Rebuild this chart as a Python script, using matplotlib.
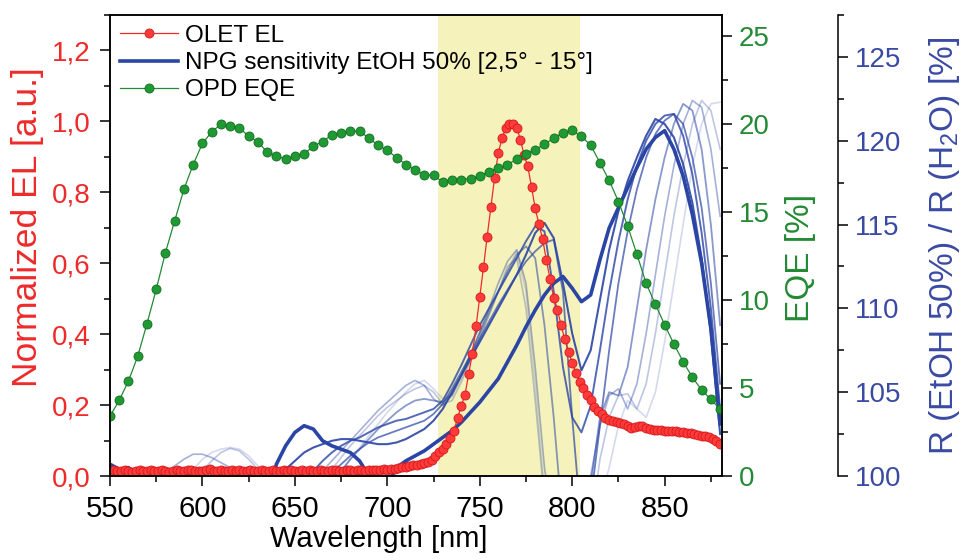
import numpy as np
import matplotlib
matplotlib.use('Agg')
import matplotlib.pyplot as plt
from matplotlib.ticker import MultipleLocator, FuncFormatter

plt.rcParams['font.family'] = ['Liberation Sans', 'DejaVu Sans']
plt.rcParams['mathtext.fontset'] = 'custom'
plt.rcParams['mathtext.rm'] = 'Liberation Sans'
plt.rcParams['mathtext.it'] = 'Liberation Sans:italic'

# --- données ---
# OPD EQE (%), pas de 5 nm
wl_eqe = np.arange(550, 881, 5)
eqe = [3.4, 4.3, 5.4, 6.8, 8.65, 10.6, 12.7, 14.5, 16.3, 17.7,
       18.9, 19.55, 20.0, 19.9, 19.8, 19.3, 19.0, 18.4, 18.2, 18.0,
       18.2, 18.3, 18.75, 19.0, 19.4, 19.5, 19.6, 19.6, 19.2, 18.8,
       18.5, 18.1, 17.7, 17.4, 17.1, 17.1, 16.7, 16.8, 16.85, 16.9,
       17.05, 17.3, 17.5, 17.7, 18.0, 18.3, 18.55, 18.85, 19.2, 19.5,
       19.65, 19.3, 18.8, 17.8, 16.8, 15.6, 14.2, 12.6, 10.95, 9.75,
       8.6, 7.5, 6.5, 5.6, 4.9, 4.35, 3.8]

# OLET EL normalisée, pas de 2 nm
wl_el = np.arange(550, 881, 2)
el = [0.014, 0.016, 0.013, 0.015, 0.017, 0.014, 0.012, 0.015, 0.016, 0.013,
      0.015, 0.018, 0.014, 0.013, 0.016, 0.015, 0.012, 0.014, 0.017, 0.015,
      0.013, 0.016, 0.018, 0.014, 0.015, 0.013, 0.016, 0.019, 0.015, 0.014,
      0.017, 0.015, 0.013, 0.016, 0.014, 0.018, 0.015, 0.013, 0.016, 0.015,
      0.014, 0.017, 0.015, 0.013, 0.016, 0.014, 0.015, 0.018, 0.014, 0.016,
      0.013, 0.015, 0.017, 0.014, 0.016, 0.015, 0.013, 0.017, 0.015, 0.014,
      0.016, 0.018, 0.015, 0.014, 0.017, 0.016, 0.015, 0.018, 0.016, 0.015,
      0.017, 0.016, 0.018, 0.017, 0.019, 0.018,
      0.020, 0.021, 0.023, 0.024, 0.026, 0.028, 0.030, 0.031, 0.033, 0.036,
      0.040, 0.046, 0.057, 0.068, 0.077, 0.090, 0.108, 0.128, 0.163, 0.198,
      0.228, 0.288, 0.345, 0.422, 0.505, 0.588, 0.675, 0.758, 0.840, 0.910,
      0.952, 0.980, 0.992, 0.993, 0.982, 0.948, 0.905, 0.873, 0.815, 0.755,
      0.710, 0.668, 0.610, 0.556, 0.502, 0.469, 0.425, 0.385, 0.350, 0.320,
      0.290, 0.266, 0.248, 0.228, 0.215, 0.195, 0.184, 0.176, 0.163, 0.158,
      0.156, 0.152, 0.150, 0.147, 0.140, 0.136, 0.138, 0.142, 0.140, 0.136,
      0.132, 0.130, 0.131, 0.129, 0.128, 0.127, 0.128, 0.126, 0.125, 0.124,
      0.122, 0.120, 0.119, 0.117, 0.114, 0.112, 0.110, 0.105, 0.098, 0.090]

# NPG sensitivity R(EtOH 50%)/R(H2O) (%), pas de 5 nm, 2,5° -> 15°
wl_npg = np.arange(550, 881, 5)
npg_1 = [100.7, 100.4, 100.5, 98, 97, 97, 97, 97, 97, 97,
         97, 97, 97, 97, 97, 97, 97, 98.5, 100.7, 101.8,
         102.6, 103.0, 102.8, 102.1, 101.8, 101.6, 101.4, 100.9, 100.0, 98.8,
         99.5, 100.5, 100.9, 101.2, 101.5, 101.9, 102.3, 102.7, 103.2, 103.8,
         104.4, 105.1, 105.8, 106.8, 107.8, 108.9, 109.9, 110.8, 111.5, 111.9,
         111.2, 110.4, 110.8, 112.9, 114.8, 116.0, 117.2, 118.4, 119.5, 120.2,
         120.6, 119.5, 117.9, 115.6, 112.7, 108.8, 103.1]
npg_2 = [97, 97, 97, 97, 97, 97, 97, 97, 97, 97,
         97, 97, 97, 97, 97, 97, 97, 97, 98.5, 100.4,
         100.9, 101.4, 101.7, 101.9, 102.1, 102.2, 102.2, 102.1, 102.0, 101.9,
         101.9, 102.0, 102.2, 102.5, 102.8, 103.3, 104.0, 105.0, 106.0, 107.0,
         108.0, 109.0, 110.0, 111.0, 112.0, 113.2, 114.5, 115.1, 114.2, 111.5,
         108.5, 106.3, 107.5, 110.5, 113.5, 115.8, 117.6, 119.0, 120.3, 121.3,
         121.0, 120.2, 118.6, 116.3, 113.0, 108.5, 102.5]
npg_3 = [97, 97, 97, 97, 97, 97, 97, 97, 97, 97,
         97, 97, 97, 97, 97, 97, 97, 97, 97, 97,
         97, 98.5, 100.3, 100.9, 101.4, 101.8, 102.1, 102.3, 102.6, 102.9,
         103.1, 103.3, 103.4, 103.6, 103.8, 104.0, 104.5, 105.5, 106.6, 107.8,
         109.0, 110.0, 111.0, 112.0, 113.0, 114.0, 114.9, 114.6, 111.0, 106.5,
         103.5, 102.6, 104.2, 107.5, 111.0, 114.0, 116.5, 118.5, 120.0, 121.0,
         121.5, 121.6, 120.3, 118.0, 114.5, 110.0, 104.0]
npg_4 = [97, 97, 97, 97, 97, 97, 99.2, 99.9, 100.3, 100.5,
         100.4, 100.1, 99.6, 97, 97, 97, 97, 97, 97, 97,
         97, 97, 97, 98.8, 100.2, 100.7, 101.2, 101.6, 102.0, 102.3,
         102.5, 102.7, 102.9, 103.1, 103.3, 103.7, 104.3, 105.2, 106.2, 107.2,
         108.2, 109.2, 110.2, 111.1, 112.0, 112.8, 113.4, 113.9, 114.1, 111.0,
         103.5, 97, 98.5, 103.0, 107.5, 111.5, 114.6, 117.1, 119.0, 120.4,
         121.2, 121.6, 121.0, 119.0, 116.0, 111.5, 105.5]
npg_5 = [97, 97, 97, 97, 97, 97, 97, 97, 97, 97,
         97, 97, 97, 97, 97, 97, 97, 97, 97, 97,
         97, 97, 97, 97, 99.5, 100.3, 101.0, 101.6, 102.2, 102.8,
         103.3, 103.8, 104.2, 104.5, 104.6, 104.5, 104.4, 104.9, 106.0, 107.2,
         108.5, 109.8, 111.0, 112.2, 113.2, 113.7, 113.0, 109.0, 103.5, 97,
         97, 97, 99.5, 103.5, 105.0, 104.8, 106.5, 110.0, 113.5, 116.5,
         119.0, 121.0, 122.2, 121.8, 119.5, 115.0, 109.0]
npg_6 = [97, 97, 97, 97, 97, 99.5, 100.1, 100.6, 101.0, 101.3,
         101.3, 101.1, 100.8, 100.5, 100.2, 99.8, 97, 97, 97, 97,
         97, 97, 99.5, 100.3, 100.9, 101.5, 102.1, 102.7, 103.3, 103.9,
         104.4, 104.9, 105.4, 105.7, 105.4, 104.6, 104.2, 104.8, 106.0, 107.3,
         108.6, 110.0, 111.5, 112.8, 113.5, 111.5, 106.5, 100.5, 97, 97,
         97, 97, 100.0, 103.0, 104.8, 105.2, 104.0, 105.5, 108.5, 112.0,
         115.5, 118.5, 121.0, 122.4, 122.0, 119.5, 115.5]
npg_7 = [97, 97, 97, 97, 97, 97, 97, 97, 97, 99.6,
         100.3, 100.9, 101.4, 101.65, 101.5, 101.0, 100.4, 99.8, 97, 97,
         97, 97, 97, 99.6, 100.4, 101.1, 101.8, 102.4, 103.0, 103.6,
         104.1, 104.5, 104.9, 105.2, 105.4, 105.0, 104.3, 104.5, 105.6, 106.9,
         108.2, 109.6, 111.0, 112.5, 113.0, 110.0, 104.5, 98.5, 97, 97,
         97, 97, 97, 101.0, 103.5, 104.8, 104.9, 104.0, 105.5, 108.5,
         112.0, 115.5, 118.5, 121.0, 122.4, 121.8, 119.5]
npg_8 = [97, 97, 97, 97, 97, 97, 97, 97, 99.6, 100.4,
         101.0, 101.4, 101.6, 101.7, 101.6, 101.2, 100.6, 100.0, 99.2, 97,
         97, 97, 97, 97, 99.2, 100.2, 101.0, 101.7, 102.4, 103.1,
         103.8, 104.4, 105.0, 105.5, 105.7, 105.2, 104.6, 104.8, 105.8, 107.0,
         108.3, 109.6, 111.0, 112.3, 113.4, 111.0, 105.5, 99.0, 97, 97,
         97, 97, 97, 98.5, 100.5, 103.0, 104.5, 104.0, 103.5, 105.0,
         108.0, 111.5, 115.0, 118.5, 121.0, 122.2, 122.3]
npg_curves = [npg_8, npg_7, npg_6, npg_5, npg_4, npg_3, npg_2, npg_1]
npg_alpha = [0.2, 0.3, 0.42, 0.55, 0.7, 0.8, 0.9, 1.0]
npg_lw = [1.2, 1.2, 1.2, 1.3, 1.3, 1.4, 1.5, 2.6]

band = (727.5, 804.3)

red = '#ee2a2a'
green = '#238a35'
blue = '#2b45a5'

fig = plt.figure(figsize=(9.63, 5.6), dpi=100)
ax = fig.add_axes([0.1142, 0.15, 0.6355, 0.8232])
ax_eqe = ax.twinx()
ax_r = ax.twinx()

ax_r.set_zorder(0)
ax.set_zorder(1)
ax_eqe.set_zorder(2)
ax.patch.set_visible(False)
ax_eqe.patch.set_visible(False)

# bande jaune + courbes NPG (axe le plus à droite)
ax_r.axvspan(band[0], band[1], color='#f5f3bb', zorder=0, lw=0)
for vals, a, lw in zip(npg_curves, npg_alpha, npg_lw):
    ax_r.plot(wl_npg, vals, color=blue, alpha=a, lw=lw)
ax_r.set_ylim(100, 127.5)
ax_r.spines['right'].set_position(('axes', 1.19))
for s in ['left', 'top', 'bottom']:
    ax_r.spines[s].set_visible(False)
ax_r.spines['right'].set_linewidth(1.1)
ax_r.yaxis.set_major_locator(MultipleLocator(5))
ax_r.yaxis.set_minor_locator(MultipleLocator(2.5))
ax_r.tick_params(axis='y', which='major', direction='out', length=7, width=1.1,
                 labelsize=20, labelcolor='#3a4aa3', pad=5)
ax_r.tick_params(axis='y', which='minor', direction='out', length=4, width=1.1)
ax_r.set_ylabel('R (EtOH 50%) / R (H$_2$O) [%]', color='#3a4aa3', fontsize=24)
ax_r.yaxis.set_label_coords(1.335, 0.5)

# EL
l_el, = ax.plot(wl_el, el, color=red, lw=0.9, marker='o', ms=6.5,
                mfc='#ff3a3a', mec='#d41818', mew=0.6, label='OLET EL')
ax.set_xlim(550, 881)
ax.set_ylim(0, 1.3)
ax.xaxis.set_major_locator(MultipleLocator(50))
ax.xaxis.set_minor_locator(MultipleLocator(25))
ax.yaxis.set_major_locator(MultipleLocator(0.2))
ax.yaxis.set_minor_locator(MultipleLocator(0.1))
ax.yaxis.set_major_formatter(FuncFormatter(lambda v, p: f'{v:.1f}'.replace('.', ',')))
ax.tick_params(axis='x', which='major', direction='out', length=7, width=1.1,
               labelsize=21, pad=7)
ax.tick_params(axis='x', which='minor', direction='out', length=4, width=1.1)
ax.tick_params(axis='y', which='major', direction='out', length=7, width=1.1,
               labelsize=20, labelcolor=red, pad=7)
ax.tick_params(axis='y', which='minor', direction='out', length=4, width=1.1)
for s in ax.spines.values():
    s.set_linewidth(1.1)
ax.set_xlabel('Wavelength [nm]', fontsize=21)
ax.xaxis.set_label_coords(0.439, -0.106)
ax.set_ylabel('Normalized EL [a.u.]', color=red, fontsize=25.5)
ax.yaxis.set_label_coords(-0.108, 0.54)

# EQE
l_eqe, = ax_eqe.plot(wl_eqe, eqe, color=green, lw=0.9, marker='o', ms=6.5,
                     mfc='#1f9a33', mec='#146b22', mew=0.6, label='OPD EQE')
ax_eqe.set_ylim(0, 26.2)
ax_eqe.yaxis.set_major_locator(MultipleLocator(5))
ax_eqe.yaxis.set_minor_locator(MultipleLocator(2.5))
ax_eqe.tick_params(axis='y', which='major', direction='out', length=7, width=1.1,
                   labelsize=20, labelcolor=green, pad=5)
ax_eqe.tick_params(axis='y', which='minor', direction='out', length=4, width=1.1)
for s in ax_eqe.spines.values():
    s.set_linewidth(1.1)
ax_eqe.set_ylabel('EQE [%]', color=green, fontsize=24)
ax_eqe.yaxis.set_label_coords(1.103, 0.474)

# légende
l_npg = plt.Line2D([], [], color=blue, lw=2.6)
ax_eqe.legend([l_el, l_npg, l_eqe],
              ['OLET EL', 'NPG sensitivity EtOH 50% [2,5° - 15°]', 'OPD EQE'],
              loc='upper left', bbox_to_anchor=(0, 1), frameon=False, fontsize=17.5,
              handlelength=2.4, handletextpad=0.3, labelspacing=0.22,
              borderaxespad=0.15, borderpad=0.25, numpoints=1)

fig.savefig('out.png', dpi=100, facecolor='white')
